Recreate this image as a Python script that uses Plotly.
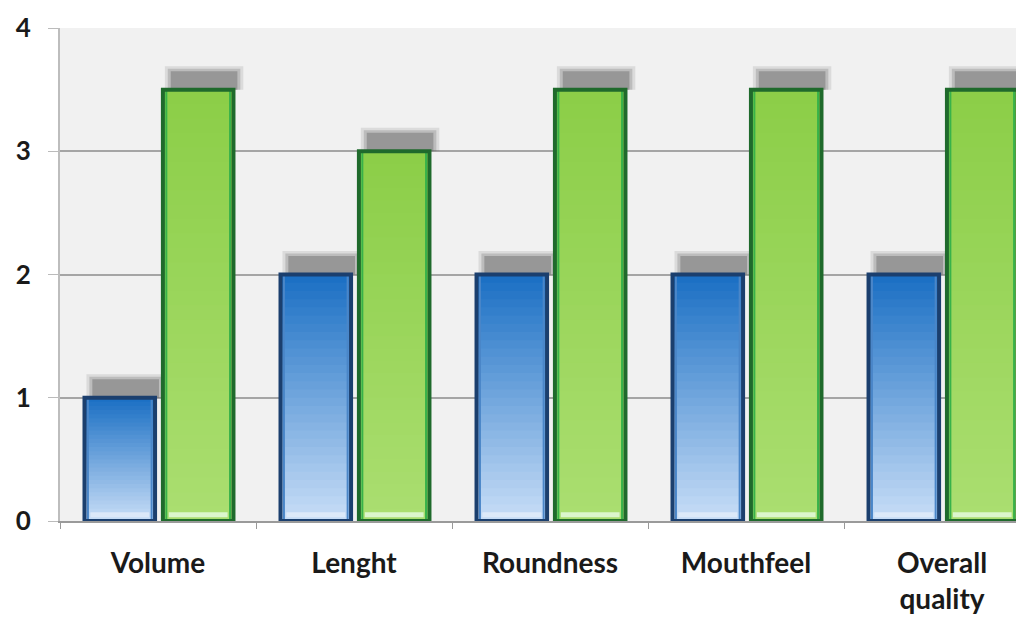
import plotly.graph_objects as go

categories = ["Volume", "Lenght", "Roundness", "Mouthfeel", "Overall<br>quality"]
series_a = [1, 2, 2, 2, 2]          # blue
series_b = [3.5, 3, 3.5, 3.5, 3.5]  # green
y_ticks = [0, 1, 2, 3, 4]

N = 30
W = 0.36
OFF_A = -0.375
OFF_B = 0.025


def lerp(c1, c2, t):
    return "rgb(%d,%d,%d)" % tuple(round(a + (b - a) * t) for a, b in zip(c1, c2))


fig = go.Figure()


def add_series(vals, off, top_c, bot_c, edge, rim, highlight):
    # soft shadow above the bar (layered for blur)
    for dw, h, a in [(0.03, 0.19, 0.15), (0.015, 0.17, 0.25), (0.0, 0.15, 0.4)]:
        fig.add_trace(go.Bar(x=categories, y=[h] * len(vals), base=vals, width=W - 0.02 + 2 * dw,
                             offset=off + 0.04 - dw,
                             marker=dict(color="rgba(95,95,95,%.2f)" % a, line_width=0),
                             hoverinfo="skip", showlegend=False))
    # gradient body (segments overlap slightly to hide seams, clamped at the bar top)
    for k in range(N):
        t = k / (N - 1)
        bases = [v * k / N for v in vals]
        heights = [min(v / N * 1.6, v - b) for v, b in zip(vals, bases)]
        fig.add_trace(go.Bar(x=categories, y=heights, base=bases,
                             width=W, offset=off,
                             marker=dict(color=lerp(bot_c, top_c, t), line_width=0),
                             hoverinfo="skip", showlegend=False))
    # bottom highlight
    fig.add_trace(go.Bar(x=categories, y=[0.04] * len(vals), base=[0.03] * len(vals),
                         width=W - 0.06, offset=off + 0.03,
                         marker=dict(color=highlight, line_width=0),
                         hoverinfo="skip", showlegend=False))
    # inner rim
    fig.add_trace(go.Bar(x=categories, y=vals, width=W - 0.035, offset=off + 0.0175,
                         marker=dict(color="rgba(0,0,0,0)", line=dict(color=rim, width=2)),
                         hoverinfo="skip", showlegend=False))
    # outline
    fig.add_trace(go.Bar(x=categories, y=vals, width=W, offset=off,
                         marker=dict(color="rgba(0,0,0,0)", line=dict(color=edge, width=4)),
                         showlegend=False))


add_series(series_a, OFF_A, (28, 112, 196), (198, 220, 246), "#1b3f6e", "#4a86c8", "rgba(225,236,250,0.8)")
add_series(series_b, OFF_B, (140, 206, 72), (170, 222, 112), "#1f6a2c", "#38b24a", "rgba(225,248,215,0.9)")

fig.update_layout(
    width=1024, height=618,
    barmode="overlay",
    paper_bgcolor="white",
    plot_bgcolor="#f1f1f1",
    margin=dict(l=52, r=0, t=20, b=105, autoexpand=False),
    font=dict(family="Lato", color="#1a1a1a"),
    xaxis=dict(
        range=[-0.5, 4.459],
        automargin=False,
        tickfont=dict(size=28, family="Lato", color="#1a1a1a", weight="bold"),
        tickson="boundaries", ticks="outside", ticklen=6, tickcolor="#999999",
        ticklabelstandoff=16,
        showline=True, linecolor="#9a9a9a", linewidth=2,
        showgrid=False,
    ),
    yaxis=dict(
        range=[0, 4], tickvals=y_ticks,
        automargin=False,
        tickfont=dict(size=26, family="Lato", color="#1a1a1a", weight="bold"),
        ticks="outside", ticklen=10, tickcolor="#bbbbbb",
        ticklabelstandoff=12,
        showgrid=True, gridcolor="#a5a5a5", gridwidth=2,
        showline=True, linecolor="#bdbdbd", linewidth=2,
        zeroline=False,
    ),
)

fig.write_html("out.html")
